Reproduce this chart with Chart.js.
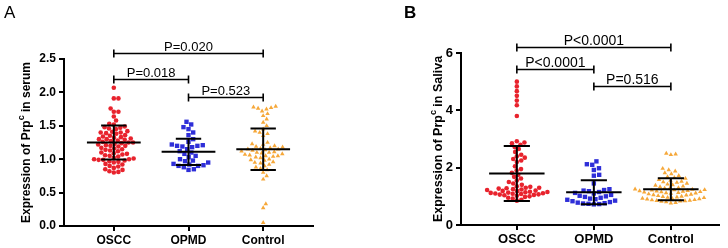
<!DOCTYPE html>
<html>
<head>
<meta charset="utf-8">
<script src="https://cdn.jsdelivr.net/npm/chart.js@4.4.1/dist/chart.umd.min.js"></script>
<style>
  html, body { margin: 0; padding: 0; background: #fff; }
  #wrap { position: relative; width: 728px; height: 248px; }
  canvas { position: absolute; top: 0; }
</style>
</head>
<body>
<div id="wrap">
  <canvas id="serumChart" width="364" height="248" style="left:0"></canvas>
  <canvas id="salivaChart" width="364" height="248" style="left:364px"></canvas>
</div>
<script>
const CATEGORIES = ['OSCC', 'OPMD', 'Control'];

// Panel A - serum
const SERUM_OSCC = [2.07, 1.91, 1.91, 1.76, 1.71, 1.71, 1.64, 1.58, 1.53, 1.52, 1.49, 1.48, 1.47, 1.46, 1.45,
  1.42, 1.41, 1.40, 1.40, 1.39, 1.38, 1.36, 1.35, 1.34, 1.33, 1.32, 1.31, 1.30, 1.30, 1.29, 1.28, 1.27, 1.26,
  1.25, 1.25, 1.24, 1.23, 1.22, 1.21, 1.20, 1.20, 1.19, 1.17, 1.16, 1.15, 1.14, 1.13, 1.12, 1.10, 1.09, 1.08,
  1.07, 1.06, 1.05, 1.04, 1.02, 1.01, 1.00, 1.00, 0.99, 0.99, 0.98, 0.97, 0.96, 0.95, 0.93, 0.92, 0.90, 0.89,
  0.87, 0.85, 0.84, 0.82, 0.81, 0.80];
const SERUM_OPMD = [1.56, 1.52, 1.48, 1.45, 1.40, 1.36, 1.30, 1.26, 1.22, 1.21, 1.20, 1.20, 1.19, 1.18, 1.15,
  1.12, 1.10, 1.08, 1.05, 1.03, 1.00, 0.98, 0.97, 0.95, 0.93, 0.92, 0.91, 0.90, 0.90, 0.88, 0.85, 0.84];
const SERUM_CONTROL = [1.79, 1.78, 1.77, 1.76, 1.75, 1.72, 1.68, 1.65, 1.60, 1.55, 1.50, 1.45, 1.42, 1.40, 1.38,
  1.35, 1.25, 1.23, 1.22, 1.20, 1.19, 1.18, 1.17, 1.16, 1.15, 1.15, 1.14, 1.13, 1.12, 1.11, 1.10, 1.10, 1.09,
  1.08, 1.07, 1.06, 1.05, 1.05, 1.04, 1.03, 1.02, 1.00, 0.99, 0.98, 0.96, 0.95, 0.94, 0.92, 0.90, 0.88, 0.86,
  0.84, 0.80, 0.75, 0.70, 0.33, 0.27, 0.05];
const SERUM_MEAN = [1.25, 1.11, 1.15];
const SERUM_SD = [0.255, 0.195, 0.31];
const SERUM_P_TEXT = ['P=0.020', 'P=0.018', 'P=0.523'];
const SERUM_P_LEVEL = [2.59, 2.20, 1.93];

// Panel B - saliva
const SALIVA_OSCC = [5.00, 4.835, 4.67, 4.505, 4.34, 4.175, 3.80, 2.92, 2.88, 2.85, 2.80, 2.72, 2.65, 2.55,
  2.45, 2.40, 2.35, 2.30, 2.25, 2.20, 2.05, 1.95, 1.90, 1.82, 1.75, 1.68, 1.62, 1.55, 1.50, 1.45, 1.40, 1.35,
  1.33, 1.30, 1.30, 1.28, 1.27, 1.25, 1.24, 1.22, 1.20, 1.19, 1.18, 1.16, 1.15, 1.14, 1.13, 1.12, 1.11, 1.10,
  1.09, 1.08, 1.07, 1.06, 1.05, 1.04, 1.02, 1.00, 0.98, 0.95, 0.92, 0.88, 0.85];
const SALIVA_OPMD = [2.22, 2.12, 2.10, 1.98, 1.92, 1.75, 1.72, 1.45, 1.25, 1.22, 1.20, 1.18, 1.15, 1.12, 1.10,
  1.05, 1.02, 1.00, 0.98, 0.95, 0.92, 0.90, 0.88, 0.85, 0.83, 0.80, 0.78, 0.76, 0.75, 0.74, 0.73, 0.72];
const SALIVA_CONTROL = [2.50, 2.47, 2.45, 1.97, 1.92, 1.88, 1.82, 1.78, 1.72, 1.68, 1.65, 1.62, 1.58, 1.55,
  1.52, 1.50, 1.48, 1.45, 1.42, 1.40, 1.38, 1.35, 1.33, 1.30, 1.28, 1.27, 1.25, 1.24, 1.23, 1.22, 1.21, 1.20,
  1.19, 1.18, 1.17, 1.16, 1.15, 1.14, 1.13, 1.12, 1.11, 1.10, 1.08, 1.07, 1.05, 1.04, 1.02, 1.00, 0.99, 0.97,
  0.96, 0.95, 0.93, 0.92, 0.91, 0.90, 0.88, 0.87, 0.86, 0.85, 0.84, 0.83, 0.82, 0.80, 0.78, 0.76];
const SALIVA_MEAN = [1.80, 1.14, 1.245];
const SALIVA_SD = [0.96, 0.42, 0.385];
const SALIVA_P_TEXT = ['P<0.0001', 'P<0.0001', 'P=0.516'];
const SALIVA_P_LEVEL = [6.21, 5.44, 4.85];

const P_PAIRS = [[0, 2], [0, 1], [1, 2]];

const RED = '#E8232D';
const BLUE = '#2E2ED8';
const ORANGE = '#F6A83A';
const FONT = 'Arial, "Liberation Sans", sans-serif';

// beeswarm: spread points sideways in pixel space so they don't overlap
function swarm(values, center, chart, diam) {
  const xs = chart.scales.x, ys = chart.scales.y;
  const unit = xs.getPixelForValue(1) - xs.getPixelForValue(0);
  const placed = [];
  const out = [];
  const order = values.map((v, i) => i).sort((a, b) => values[a] - values[b]);
  order.forEach(i => {
    const py = ys.getPixelForValue(values[i]);
    const near = placed.filter(p => Math.abs(p.y - py) < diam);
    const cands = [0];
    near.forEach(p => {
      const dx = Math.sqrt(diam * diam - (p.y - py) * (p.y - py));
      cands.push(p.x + dx + 0.01, p.x - dx - 0.01);
    });
    cands.sort((a, b) => Math.abs(a) - Math.abs(b));
    const px = cands.find(c => near.every(p => Math.hypot(p.x - c, p.y - py) >= diam - 0.001));
    placed.push({ x: px, y: py });
    out[i] = { x: center + px / unit, y: values[i] };
  });
  return out;
}

const decorPlugin = {
  id: 'decor',
  afterDatasetsDraw(chart, args, o) {
    const ctx = chart.ctx, xs = chart.scales.x, ys = chart.scales.y;
    ctx.save();
    ctx.strokeStyle = '#000';
    ctx.lineWidth = 2;
    o.mean.forEach((m, i) => {
      const cx = xs.getPixelForValue(i);
      const hw = xs.getPixelForValue(i + 0.36) - cx;
      const cw = xs.getPixelForValue(i + 0.17) - cx;
      const my = ys.getPixelForValue(m);
      const top = ys.getPixelForValue(m + o.sd[i]);
      const bot = ys.getPixelForValue(m - o.sd[i]);
      ctx.beginPath();
      ctx.moveTo(cx - hw, my); ctx.lineTo(cx + hw, my);
      ctx.moveTo(cx, top); ctx.lineTo(cx, bot);
      ctx.moveTo(cx - cw, top); ctx.lineTo(cx + cw, top);
      ctx.moveTo(cx - cw, bot); ctx.lineTo(cx + cw, bot);
      ctx.stroke();
    });
    ctx.restore();
  },
  afterDraw(chart, args, o) {
    const ctx = chart.ctx, xs = chart.scales.x, ys = chart.scales.y, area = chart.chartArea;
    ctx.save();
    // significance brackets
    ctx.strokeStyle = '#000';
    ctx.fillStyle = '#000';
    ctx.lineWidth = 1.6;
    ctx.font = o.pSize + 'px ' + FONT;
    ctx.textAlign = 'center';
    ctx.textBaseline = 'alphabetic';
    P_PAIRS.forEach((pair, k) => {
      const x1 = xs.getPixelForValue(pair[0]);
      const x2 = xs.getPixelForValue(pair[1]);
      const y = Math.round(ys.getPixelForValue(o.pLevel[k])) + 0.5;
      ctx.beginPath();
      ctx.moveTo(x1, y); ctx.lineTo(x2, y);
      ctx.moveTo(x1, y - 4); ctx.lineTo(x1, y + 4);
      ctx.moveTo(x2, y - 4); ctx.lineTo(x2, y + 4);
      ctx.stroke();
      ctx.fillText(o.pText[k], (x1 + x2) / 2, y - 3);
    });
    // y title with superscript
    const tx = o.titleX, ty = (area.top + area.bottom) / 2;
    const big = 'bold ' + o.titleSize + 'px ' + FONT;
    const small = 'bold ' + Math.round(o.titleSize * 0.72) + 'px ' + FONT;
    ctx.font = big;
    const w1 = ctx.measureText('Expression of Prp').width;
    const w3 = ctx.measureText(o.titleTail).width;
    ctx.font = small;
    const w2 = ctx.measureText('c').width;
    let x = -(w1 + w2 + w3) / 2;
    ctx.translate(tx, ty);
    ctx.rotate(-Math.PI / 2);
    ctx.textAlign = 'left';
    ctx.textBaseline = 'middle';
    ctx.font = big;
    ctx.fillText('Expression of Prp', x, 0);
    x += w1;
    ctx.font = small;
    ctx.fillText('c', x, -o.titleSize * 0.42);
    x += w2;
    ctx.font = big;
    ctx.fillText(o.titleTail, x, 0);
    ctx.setTransform(1, 0, 0, 1, 0, 0);
    // panel letter
    ctx.font = o.letterFont;
    ctx.textAlign = 'left';
    ctx.textBaseline = 'alphabetic';
    ctx.fillText(o.letter, o.letterX, 18);
    ctx.restore();
  }
};

function makeChart(id, groups, cfg) {
  const styles = [
    { color: RED, pointStyle: 'circle', radius: 2.3, diam: 4.6 },
    { color: BLUE, pointStyle: 'rect', radius: 3.1, diam: 5.4 },
    { color: ORANGE, pointStyle: 'triangle', radius: 2.6, diam: 4.8 }
  ];
  const chart = new Chart(document.getElementById(id).getContext('2d'), {
    type: 'scatter',
    data: {
      datasets: groups.map((vals, i) => ({
        label: CATEGORIES[i],
        data: vals.map(v => ({ x: i, y: v })),
        backgroundColor: styles[i].color,
        borderColor: styles[i].color,
        borderWidth: 0,
        pointStyle: styles[i].pointStyle,
        pointRadius: styles[i].radius,
        clip: false
      }))
    },
    options: {
      responsive: false,
      animation: false,
      layout: { padding: { left: 0, top: cfg.top, right: cfg.right, bottom: 0 } },
      plugins: {
        legend: { display: false },
        tooltip: { enabled: false },
        decor: cfg.decor
      },
      scales: {
        x: {
          type: 'linear',
          min: cfg.xMin,
          max: cfg.xMax,
          afterBuildTicks: s => { s.ticks = CATEGORIES.map((c, i) => ({ value: i })); },
          afterFit: s => { s.height = cfg.xHeight; },
          ticks: {
            callback: v => CATEGORIES[v],
            color: '#000',
            padding: 2,
            maxRotation: 0,
            font: { family: FONT, size: cfg.tickSize, weight: 'bold' }
          },
          grid: { drawOnChartArea: false, drawTicks: true, tickLength: 5, color: '#000', lineWidth: 2 },
          border: { display: true, color: '#000', width: 2 }
        },
        y: {
          min: 0,
          max: cfg.yMax,
          afterFit: s => { s.width = cfg.yWidth; },
          ticks: {
            stepSize: cfg.yStep,
            callback: cfg.yFormat,
            color: '#000',
            padding: 3,
            font: { family: FONT, size: cfg.tickSize, weight: 'bold' }
          },
          grid: { drawOnChartArea: false, drawTicks: true, tickLength: 5, color: '#000', lineWidth: 2 },
          border: { display: true, color: '#000', width: 2 }
        }
      }
    },
    plugins: [decorPlugin]
  });
  chart.data.datasets.forEach((ds, i) => {
    ds.data = swarm(groups[i], i, chart, styles[i].diam);
  });
  chart.update('none');
  return chart;
}

makeChart('serumChart', [SERUM_OSCC, SERUM_OPMD, SERUM_CONTROL], {
  top: 59, right: 51, xHeight: 22, yWidth: 64,
  xMin: -0.667, xMax: 2.667, yMax: 2.5, yStep: 0.5,
  yFormat: v => v.toFixed(1), tickSize: 12,
  decor: {
    mean: SERUM_MEAN, sd: SERUM_SD, pText: SERUM_P_TEXT, pLevel: SERUM_P_LEVEL, pSize: 13,
    titleX: 27, titleSize: 12, titleTail: ' in serum',
    letter: 'A', letterX: 4, letterFont: '17px ' + FONT
  }
});

makeChart('salivaChart', [SALIVA_OSCC, SALIVA_OPMD, SALIVA_CONTROL], {
  top: 53, right: 9, xHeight: 23, yWidth: 97,
  xMin: -0.725, xMax: 2.625, yMax: 6, yStep: 2,
  yFormat: v => String(v), tickSize: 13,
  decor: {
    mean: SALIVA_MEAN, sd: SALIVA_SD, pText: SALIVA_P_TEXT, pLevel: SALIVA_P_LEVEL, pSize: 14,
    titleX: 75, titleSize: 12.5, titleTail: ' in Saliva',
    letter: 'B', letterX: 40, letterFont: 'bold 17px ' + FONT
  }
});
</script>
</body>
</html>
